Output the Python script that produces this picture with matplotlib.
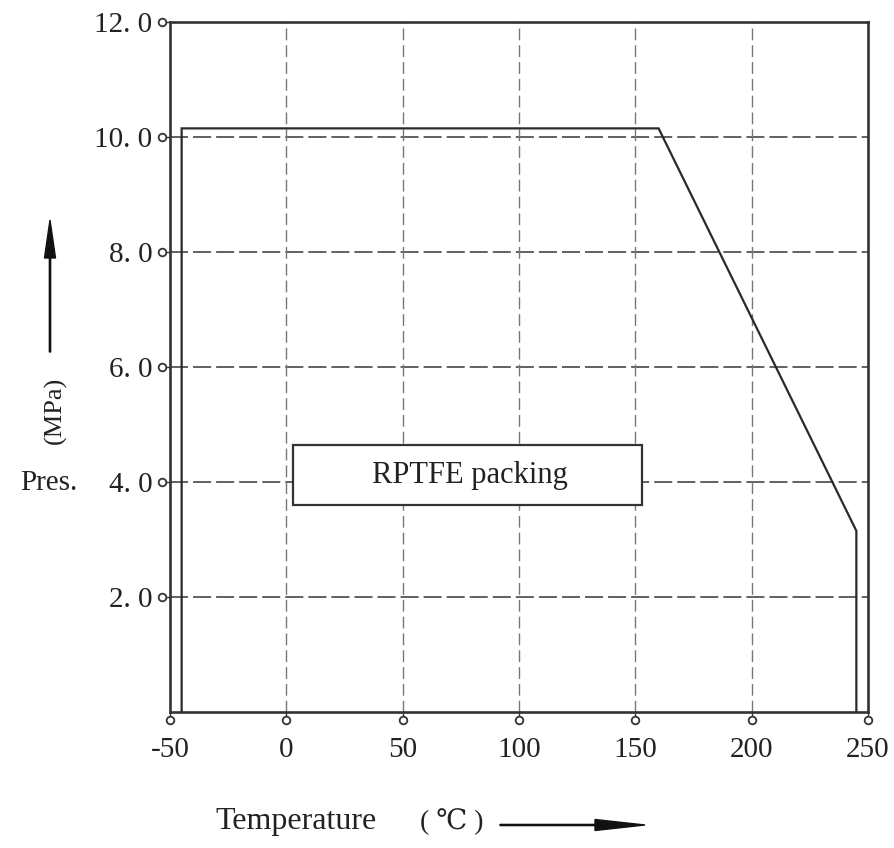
import numpy as np
import matplotlib
matplotlib.use('Agg')
import matplotlib.pyplot as plt
from matplotlib.patches import Rectangle, FancyArrow
from matplotlib.transforms import ScaledTranslation, blended_transform_factory

# pressure / temperature curve for the packing
temp = [-45, -45, 160, 245, 245]
pres = [0, 10.15, 10.15, 3.15, 0]

x_ticks = [-50, 0, 50, 100, 150, 200, 250]
x_labels = ['-50', '0', '50', '100', '150', '200', '250']
y_ticks = [2, 4, 6, 8, 10, 12]
y_labels = ['2. 0', '4. 0', '6. 0', '8. 0', '10. 0', '12. 0']
box_label = 'RPTFE packing'

plt.rcParams['lines.scale_dashes'] = False
W, H = 894, 848
fig = plt.figure(figsize=(W / 100, H / 100), dpi=100)
ax = fig.add_axes([170 / W, 1 - 712 / H, (868 - 170) / W, (712 - 22) / H])

ink = '#2a2a2a'
ax.plot(temp, pres, color=ink, lw=1.6, zorder=4, solid_joinstyle='miter')

ax.set_xlim(-50, 250)
ax.set_ylim(0, 12)
ax.set_xticks(x_ticks)
ax.set_xticklabels(x_labels)
ax.set_yticks(y_ticks)
ax.set_yticklabels(y_labels)

# dashed grid, horizontal a bit heavier than vertical
for yv in y_ticks[:-1]:
    ax.axhline(yv, color='#555555', lw=1.3, dashes=(13, 3.6), zorder=1)
for xv in x_ticks[1:-1]:
    ax.axvline(xv, color='#777777', lw=1.0, dashes=(8.5, 3.6), zorder=1)

for s in ax.spines.values():
    s.set_linewidth(1.9)
    s.set_color('#333333')

tick_font = dict(family=['Liberation Serif', 'DejaVu Serif'], size=21)
ax.tick_params(axis='both', length=5.8, width=1.0, color='#333333')
ax.tick_params(axis='y', pad=7)
ax.tick_params(axis='x', pad=12)
for lab in ax.get_xticklabels() + ax.get_yticklabels():
    lab.set_fontproperties(tick_font)
    lab.set_color('#222222')

# little open circles at the tick ends
off = 8 / 100
ytr = blended_transform_factory(ax.transAxes, ax.transData) + ScaledTranslation(-off, 0, fig.dpi_scale_trans)
xtr = blended_transform_factory(ax.transData, ax.transAxes) + ScaledTranslation(0, -off, fig.dpi_scale_trans)
ax.plot(np.zeros(len(y_ticks)), y_ticks, 'o', transform=ytr, clip_on=False,
        mfc='white', mec='#333333', ms=5.5, mew=1.3, zorder=6)
ax.plot(x_ticks, np.zeros(len(x_ticks)), 'o', transform=xtr, clip_on=False,
        mfc='white', mec='#333333', ms=5.5, mew=1.3, zorder=6)

# label box
ax.add_patch(Rectangle((2.9, 3.6), 149.9, 1.04, facecolor='white',
                       edgecolor='#333333', lw=1.6, zorder=3))
ax.text(79, 4.12, box_label, ha='center', va='center', fontsize=22,
        family='Liberation Serif', color='#222222', zorder=5)

serif = ['Liberation Serif', 'DejaVu Serif']
# y-axis label with arrow
fig.text(20 / W, 1 - 483 / H, 'Pres.', ha='left', va='center', fontsize=21,
         family=serif, color='#222222')
fig.text(55 / W, 1 - 410 / H, '(MPa)', ha='center', va='center', rotation=90,
         fontsize=19, family=serif, color='#222222')
fig.patches.append(FancyArrow(50 / W, 1 - 352 / H, 0, 132 / H, width=1.2 / H,
                              head_width=11 / W, head_length=38 / H,
                              length_includes_head=True, color='#111111',
                              transform=fig.transFigure, figure=fig))

# x-axis label with arrow
fig.text(215 / W, 1 - 822 / H, 'Temperature', ha='left', va='center', fontsize=23,
         family=serif, color='#222222')
fig.text(420 / W, 1 - 822 / H, '( \u2103 )', ha='left', va='center', fontsize=20,
         family=['Liberation Serif', 'DejaVu Serif', 'Noto Sans CJK SC'], color='#222222')
fig.patches.append(FancyArrow(500 / W, 1 - 825 / H, 145 / W, 0, width=1.2 / H,
                              head_width=11 / H, head_length=50 / W,
                              length_includes_head=True, color='#111111',
                              transform=fig.transFigure, figure=fig))

fig.savefig('out.png', dpi=100)
